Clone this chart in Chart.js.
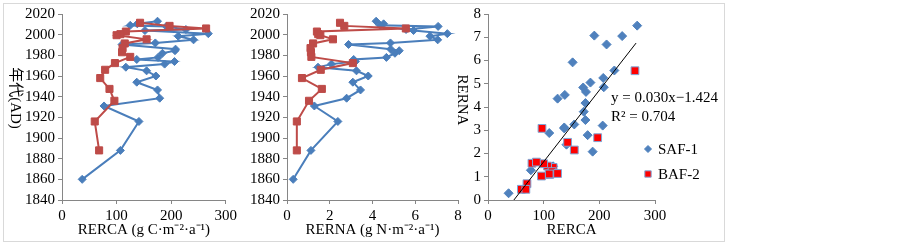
<!DOCTYPE html>
<html>
<head>
<meta charset="utf-8">
<script src="https://cdn.jsdelivr.net/npm/chart.js@4.4.1/dist/chart.umd.min.js"></script>
<style>
body { margin: 0; background: #fff; }
#frame { position: absolute; left: 3px; top: 3px; width: 720px; height: 237px; border: 1px solid #d9d9d9; }
canvas { position: absolute; top: 0; }
</style>
</head>
<body>
<div id="frame"></div>
<canvas id="rercaChart" width="240" height="244" style="left:0px"></canvas>
<canvas id="rernaChart" width="230" height="244" style="left:240px"></canvas>
<canvas id="scatterChart" width="284" height="244" style="left:440px"></canvas>
<script>
// SAF-1 profile
const safYears = [2013, 2010.5, 2009, 2008, 2005, 2004, 2001, 1998.5, 1995, 1992, 1990.5, 1986, 1984.5, 1982, 1978, 1976, 1974, 1971.5, 1968.5, 1965, 1960, 1954, 1946.5, 1938.5, 1931, 1916, 1888, 1860];
const safRerca = [175, 138, 125, 191, 227, 152, 268, 213, 241, 171, 110, 208, 207, 184, 176, 137, 206, 188, 117, 155, 172, 137, 175, 179, 77, 141, 107, 37];
const safRerna = [4.17, 4.52, 4.36, 7.07, 5.57, 5.92, 7.5, 6.69, 7.05, 4.84, 2.88, 4.85, 5.25, 5.05, 4.65, 3.12, 3.2, 2.08, 1.45, 3.25, 3.8, 3.08, 3.44, 2.79, 1.28, 2.38, 1.12, 0.29];

// BAF-2 profile
const bafYears = [2011.5, 2008.5, 2006, 2003, 2000.5, 1999.5, 1995.5, 1991.5, 1987, 1983, 1978.5, 1972.5, 1966, 1958, 1947.5, 1936, 1916, 1888];
const bafRerca = [143, 197, 264, 117, 107, 100, 155, 115, 111, 110, 125, 97, 79, 70, 87, 96, 60, 68];
const bafRerna = [2.48, 2.68, 5.56, 1.40, 1.46, 1.56, 2.15, 1.22, 1.10, 1.12, 1.14, 3.08, 1.58, 0.70, 1.63, 1.03, 0.46, 0.46];

// trend line end points (RERCA, RERNA)
const trendX = [46.5, 266];
const trendY = [0, 6.75];

const seriesNames = ['SAF-1', 'BAF-2'];
const equationText = ['y = 0.030x\u22121.424', 'R\u00b2 = 0.704'];

const blue = '#4A7EBB';
const red = '#BE4B48';
const axisGrey = '#868686';

Chart.defaults.font.family = '"Liberation Serif", "Times New Roman", "Noto Sans CJK SC", serif';
Chart.defaults.font.size = 15;
Chart.defaults.color = '#000';

function pairs(xs, ys) {
    return xs.map((x, i) => ({ x: x, y: ys[i] }));
}

// y axis title rotated clockwise, reading top to bottom
const sideTitle = {
    id: 'sideTitle',
    afterDraw(chart, args, opts) {
        if (!opts.text) return;
        const ctx = chart.ctx;
        ctx.save();
        ctx.translate(opts.x, opts.y);
        ctx.rotate(Math.PI / 2);
        ctx.font = '15px "Liberation Serif", "Noto Sans CJK SC", serif';
        ctx.fillStyle = '#000';
        ctx.textAlign = 'center';
        ctx.textBaseline = 'middle';
        ctx.fillText(opts.text, 0, 0);
        ctx.restore();
    }
};

function axis(min, max, step, title, fitSize, horizontal) {
    const s = {
        type: 'linear',
        min: min,
        max: max,
        ticks: { stepSize: step, padding: 3, autoSkip: false, callback: v => String(v) },
        grid: { drawOnChartArea: false, color: axisGrey, tickLength: 4 },
        border: { color: axisGrey }
    };
    if (horizontal) {
        s.position = 'bottom';
        s.title = { display: !!title, text: title, padding: { top: 0, bottom: 5 } };
        s.afterFit = scale => { scale.height = fitSize; };
    } else {
        s.position = 'left';
        s.afterFit = scale => { scale.width = fitSize; };
    }
    return s;
}

function profileChart(id, xVals, bafVals, xMax, xStep, xTitle, yWidth, rightPad, yTitle) {
    return new Chart(document.getElementById(id), {
        type: 'scatter',
        data: {
            datasets: [{
                label: seriesNames[1],
                data: pairs(bafVals, bafYears),
                showLine: true,
                borderColor: red,
                backgroundColor: red,
                borderWidth: 2,
                pointStyle: 'rect',
                pointRadius: 5,
                pointBorderWidth: 1,
                order: 0
            }, {
                label: seriesNames[0],
                data: pairs(xVals, safYears),
                showLine: true,
                borderColor: blue,
                backgroundColor: blue,
                borderWidth: 2,
                pointStyle: 'rectRot',
                pointRadius: 4,
                pointBorderWidth: 1,
                order: 1
            }]
        },
        options: {
            responsive: false,
            animation: false,
            devicePixelRatio: 1,
            layout: { padding: { top: 14, right: rightPad, left: 0, bottom: 0 } },
            scales: {
                x: axis(0, xMax, xStep, xTitle, 44, true),
                y: axis(1840, 2020, 20, '', yWidth, false)
            },
            plugins: {
                legend: { display: false },
                tooltip: { enabled: false },
                sideTitle: yTitle
            }
        },
        plugins: [sideTitle]
    });
}

profileChart('rercaChart', safRerca, bafRerca, 300, 100, 'RERCA (g C\u00b7m\u207b\u00b2\u00b7a\u207b\u00b9)', 62, 12,
    { text: '年代(AD)', x: 15, y: 98 });
profileChart('rernaChart', safRerna, bafRerna, 8, 2, 'RERNA (g N\u00b7m\u207b\u00b2\u00b7a\u207b\u00b9)', 47, 12,
    { text: '' });

// legend and equation inside the scatter panel
const scatterNotes = {
    id: 'scatterNotes',
    afterDraw(chart) {
        const ctx = chart.ctx;
        ctx.save();
        ctx.font = '15px "Liberation Serif", serif';
        ctx.fillStyle = '#000';
        ctx.textAlign = 'left';
        ctx.textBaseline = 'middle';
        ctx.fillText(equationText[0], 171, 98);
        ctx.fillText(equationText[1], 171, 117);
        [0, 1].forEach(i => {
            const ds = chart.data.datasets.find(d => d.label === seriesNames[i]);
            const y = i === 0 ? 149 : 174;
            ctx.fillStyle = ds.backgroundColor;
            ctx.strokeStyle = ds.borderColor;
            ctx.lineWidth = 1;
            Chart.helpers.drawPoint(ctx, { pointStyle: ds.pointStyle, radius: ds.pointRadius - 1, borderWidth: 1, rotation: 0 }, 208, y);
            ctx.fillStyle = '#000';
            ctx.fillText(seriesNames[i], 218, y + 1);
        });
        ctx.restore();
    }
};

new Chart(document.getElementById('scatterChart'), {
    type: 'scatter',
    data: {
        datasets: [{
            label: 'trend',
            data: pairs(trendX, trendY),
            showLine: true,
            borderColor: '#000',
            borderWidth: 1,
            pointRadius: 0,
            order: 0
        }, {
            label: seriesNames[1],
            data: pairs(bafRerca, bafRerna),
            backgroundColor: '#FF0000',
            borderColor: '#7FA6D6',
            pointStyle: 'rect',
            pointRadius: 5.5,
            pointBorderWidth: 1,
            order: 1
        }, {
            label: seriesNames[0],
            data: pairs(safRerca, safRerna),
            backgroundColor: '#4F81BD',
            borderColor: '#4F81BD',
            pointStyle: 'rectRot',
            pointRadius: 4.5,
            pointBorderWidth: 1,
            order: 2
        }]
    },
    options: {
        responsive: false,
        animation: false,
        devicePixelRatio: 1,
        layout: { padding: { top: 14, right: 69, left: 0, bottom: 0 } },
        scales: {
            x: axis(0, 300, 100, 'RERCA', 44, true),
            y: axis(0, 8, 1, '', 48, false)
        },
        plugins: {
            legend: { display: false },
            tooltip: { enabled: false },
            sideTitle: { text: 'RERNA', x: 22, y: 100 }
        }
    },
    plugins: [sideTitle, scatterNotes]
});
</script>
</body>
</html>
